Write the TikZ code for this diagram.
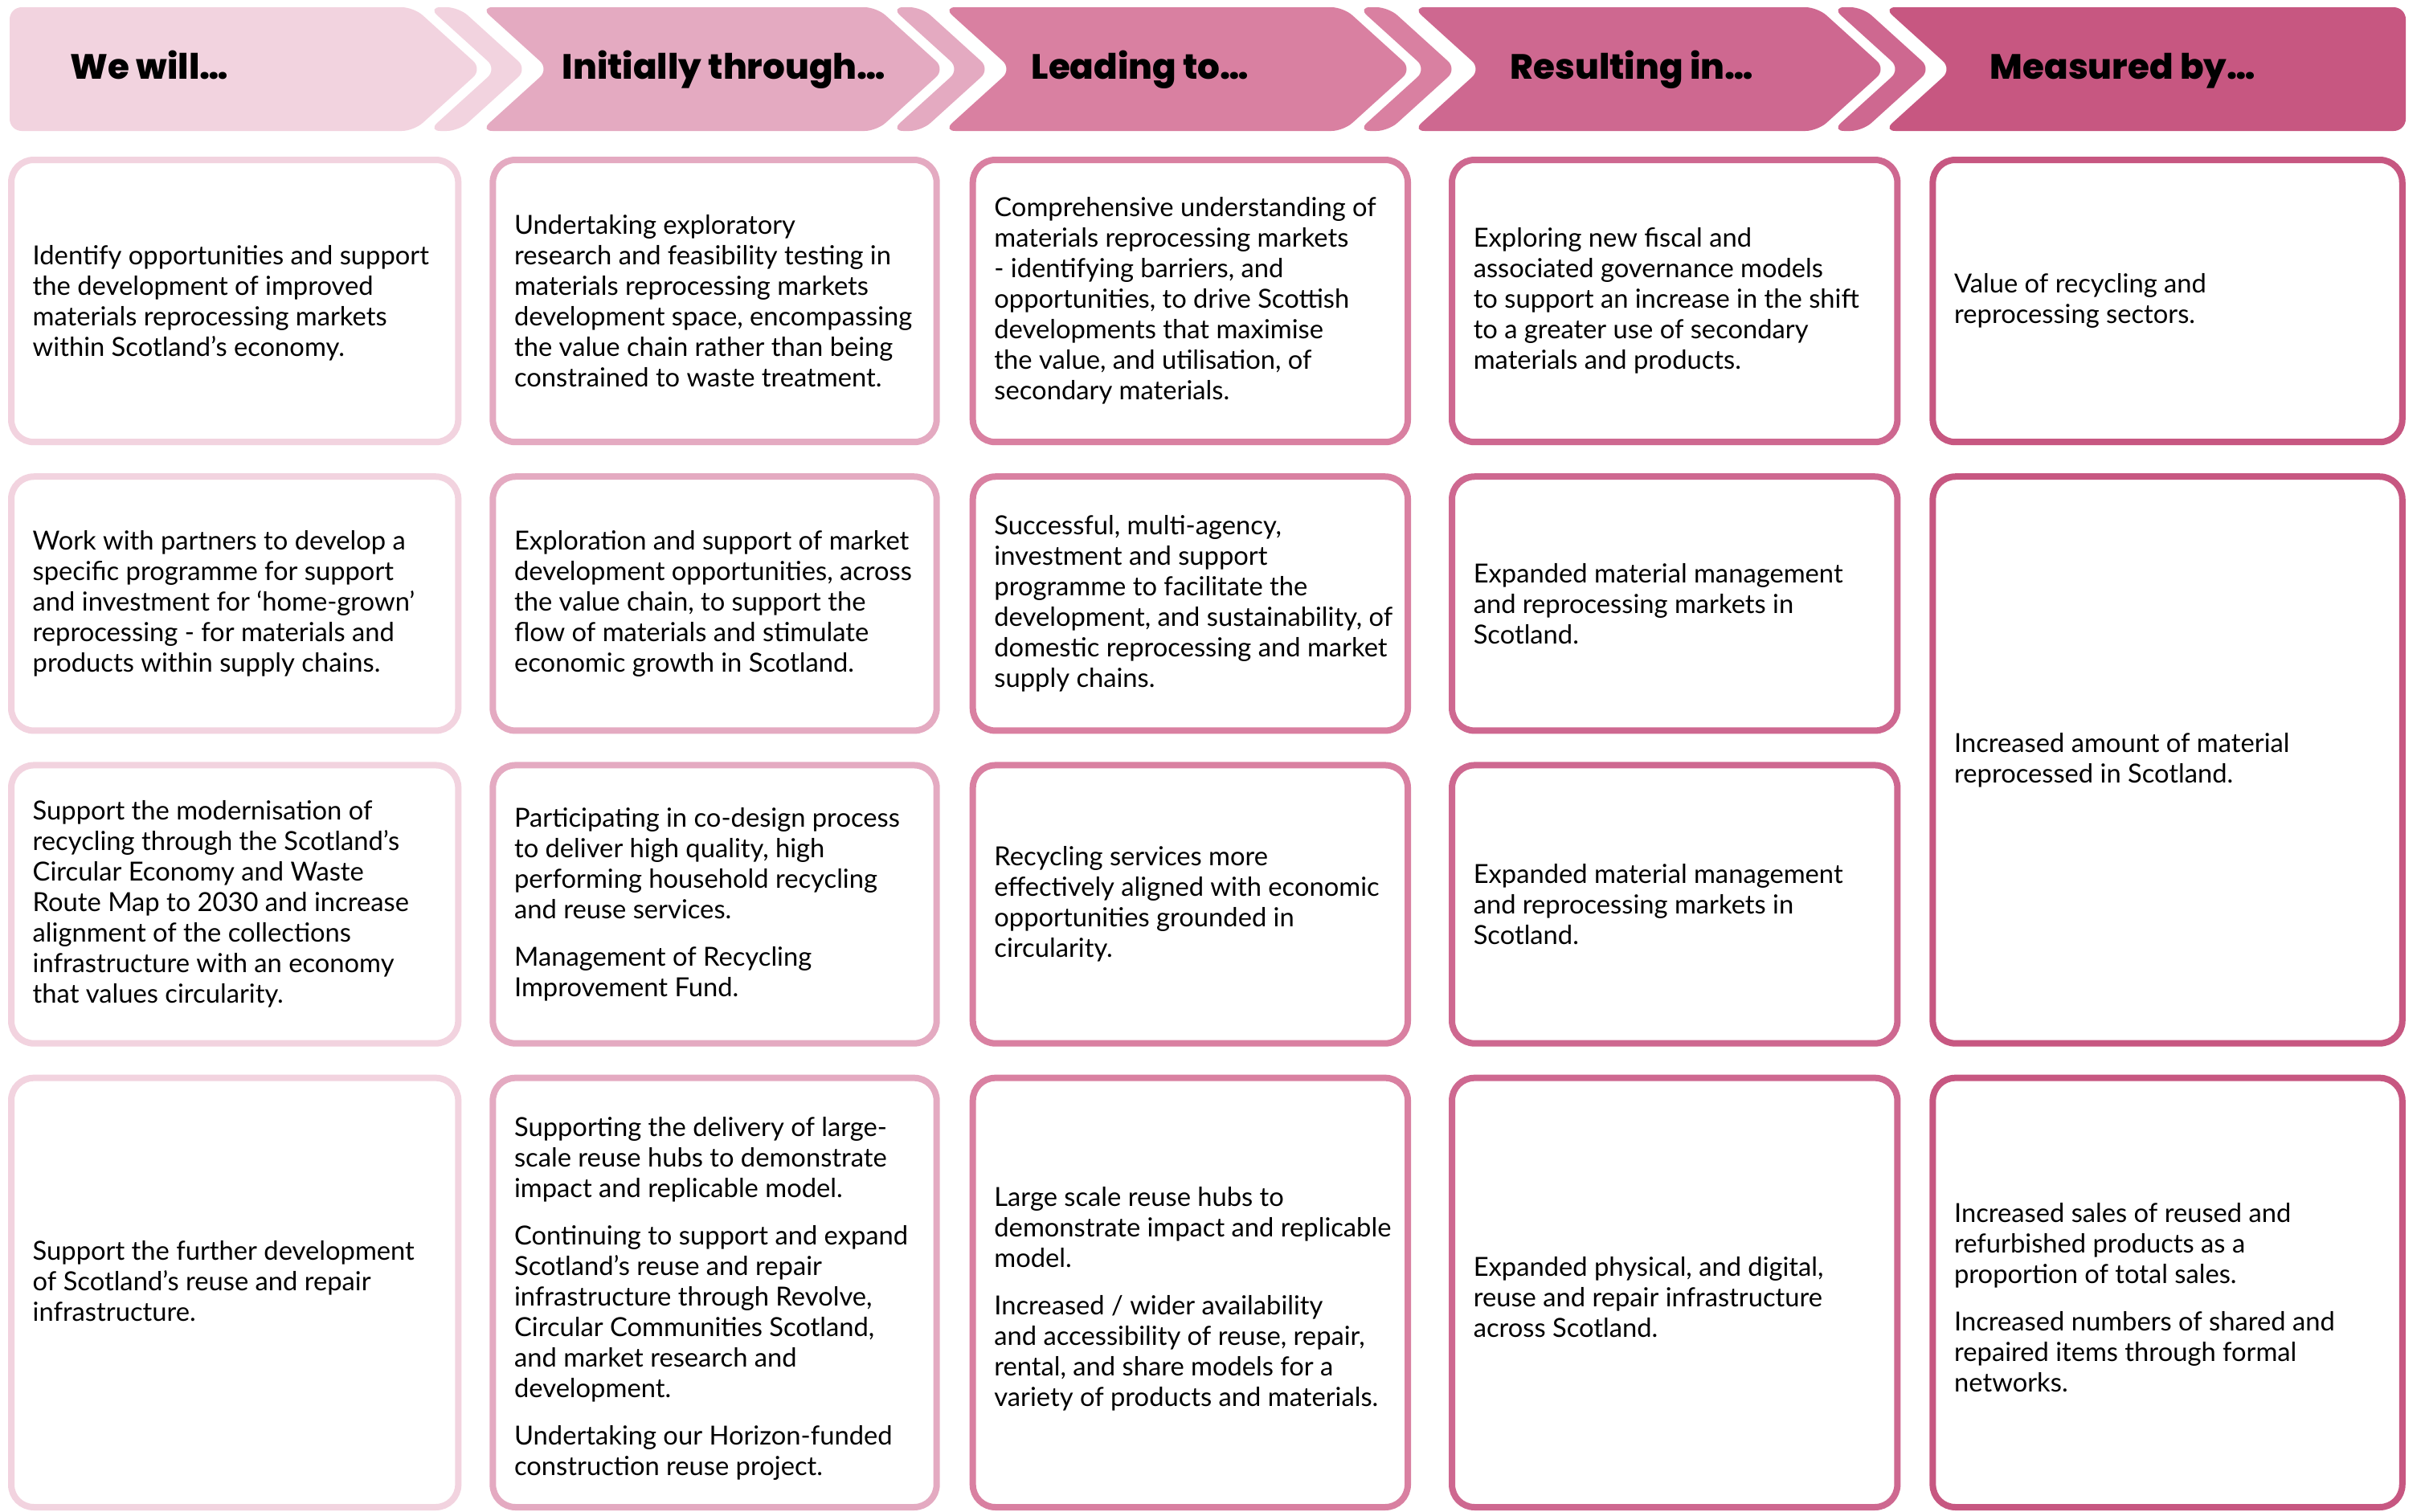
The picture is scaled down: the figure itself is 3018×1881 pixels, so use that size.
\documentclass[tikz,border=0pt]{standalone}
\usepackage{fontspec}
\setmainfont{Lato}
\newfontfamily\headfont{Poppins ExtraBold}
\usepackage{tikz}
\usetikzlibrary{positioning}

\definecolor{pkA}{HTML}{F2D3DF}
\definecolor{pkB}{HTML}{E4AAC1}
\definecolor{pkC}{HTML}{D980A1}
\definecolor{pkD}{HTML}{CE6890}
\definecolor{pkE}{HTML}{C75781}

\tikzset{
    card/.style={draw, fill=white, line width=0.08cm, rounded corners=0.28cm, inner sep=0pt},
    cwe/.style={card, draw=pkA, minimum width=5.56cm},
    cinit/.style={card, draw=pkB, minimum width=5.52cm},
    clead/.style={card, draw=pkC, minimum width=5.41cm},
    cres/.style={card, draw=pkD, minimum width=5.54cm},
    cmeas/.style={card, draw=pkE, minimum width=5.84cm},
    rowa/.style={minimum height=3.51cm},
    rowb/.style={minimum height=3.16cm},
    rowc/.style={minimum height=3.46cm},
    rowd/.style={minimum height=5.34cm},
    rowbc/.style={minimum height=7.05cm},
    txt/.style={align=left, inner sep=0pt, font=\fontsize{9.3}{10.8}\selectfont},
    head/.style={anchor=base west, inner sep=0pt, font=\headfont\fontsize{12.4}{14}\selectfont},
}

\begin{document}
\begin{tikzpicture}[x=0.01cm, y=-0.01cm]
    \useasboundingbox (0,0) rectangle (3018,1881);

    % header chevrons
    \fill[pkA, rounded corners=0.15cm] (12,9) -- (515,9) -- (600,86) -- (515,163) -- (12,163) -- cycle;
    \fill[pkA, rounded corners=0.15cm] (533,9) -- (571,9) -- (656,86) -- (571,163) -- (533,163) -- (618,86) -- cycle;
    \fill[pkB, rounded corners=0.15cm] (598,9) -- (1091,9) -- (1176,86) -- (1091,163) -- (598,163) -- (683,86) -- cycle;
    \fill[pkB, rounded corners=0.15cm] (1109,9) -- (1147,9) -- (1232,86) -- (1147,163) -- (1109,163) -- (1194,86) -- cycle;
    \fill[pkC, rounded corners=0.15cm] (1174,9) -- (1672,9) -- (1757,86) -- (1672,163) -- (1174,163) -- (1259,86) -- cycle;
    \fill[pkC, rounded corners=0.15cm] (1690,9) -- (1728,9) -- (1813,86) -- (1728,163) -- (1690,163) -- (1775,86) -- cycle;
    \fill[pkD, rounded corners=0.15cm] (1758,9) -- (2262,9) -- (2347,86) -- (2262,163) -- (1758,163) -- (1843,86) -- cycle;
    \fill[pkD, rounded corners=0.15cm] (2280,9) -- (2318,9) -- (2403,86) -- (2318,163) -- (2280,163) -- (2365,86) -- cycle;
    \fill[pkE, rounded corners=0.15cm] (2344,9) -- (2994,9) -- (2994,163) -- (2344,163) -- (2429,86) -- cycle;

    \node[head] (hwe) at (87,98) {We will…};
    \node[head] (hinit) at (699,98) {Initially through…};
    \node[head] (hlead) at (1283,98) {Leading to…};
    \node[head] (hres) at (1879,98) {Resulting in…};
    \node[head] (hmeas) at (2476,98) {Measured by…};

    % row 1
    \node[cwe, rowa, anchor=north west] (we1) at (10,195) {};
    \node[cinit, rowa, right=0.35cm of we1] (init1) {};
    \node[clead, rowa, right=0.37cm of init1] (lead1) {};
    \node[cres, rowa, right=0.47cm of lead1] (res1) {};
    \node[cmeas, rowa, right=0.36cm of res1] (meas1) {};

    % row 2
    \node[cwe, rowb, below=0.35cm of we1] (we2) {};
    \node[cinit, rowb, below=0.35cm of init1] (init2) {};
    \node[clead, rowb, below=0.35cm of lead1] (lead2) {};
    \node[cres, rowb, below=0.35cm of res1] (res2) {};
    \node[cmeas, rowbc, below=0.35cm of meas1] (meas2) {};

    % row 3
    \node[cwe, rowc, below=0.35cm of we2] (we3) {};
    \node[cinit, rowc, below=0.35cm of init2] (init3) {};
    \node[clead, rowc, below=0.35cm of lead2] (lead3) {};
    \node[cres, rowc, below=0.35cm of res2] (res3) {};

    % row 4
    \node[cwe, rowd, below=0.35cm of we3] (we4) {};
    \node[cinit, rowd, below=0.35cm of init3] (init4) {};
    \node[clead, rowd, below=0.35cm of lead3] (lead4) {};
    \node[cres, rowd, below=0.35cm of res3] (res4) {};
    \node[cmeas, rowd, below=0.35cm of meas2] (meas3) {};

    % texts
    \node[txt, right=0.3cm of we1.west, yshift=-0.03cm] (we1-t) {Identify opportunities and support\\the development of improved\\materials reprocessing markets\\within Scotland’s economy.};
    \node[txt, right=0.3cm of init1.west] (init1-t) {Undertaking exploratory\\research and feasibility testing in\\materials reprocessing markets\\development space, encompassing\\the value chain rather than being\\constrained to waste treatment.};
    \node[txt, right=0.3cm of lead1.west] (lead1-t) {Comprehensive understanding of\\materials reprocessing markets\\- identifying barriers, and\\opportunities, to drive Scottish\\developments that maximise\\the value, and utilisation, of\\secondary materials.};
    \node[txt, right=0.3cm of res1.west] (res1-t) {Exploring new fiscal and\\associated governance models\\to support an increase in the shift\\to a greater use of secondary\\materials and products.};
    \node[txt, right=0.3cm of meas1.west] (meas1-t) {Value of recycling and\\reprocessing sectors.};

    \node[txt, right=0.3cm of we2.west] (we2-t) {Work with partners to develop a\\specific programme for support\\and investment for ‘home-grown’\\reprocessing - for materials and\\products within supply chains.};
    \node[txt, right=0.3cm of init2.west] (init2-t) {Exploration and support of market\\development opportunities, across\\the value chain, to support the\\flow of materials and stimulate\\economic growth in Scotland.};
    \node[txt, right=0.3cm of lead2.west] (lead2-t) {Successful, multi-agency,\\investment and support\\programme to facilitate the\\development, and sustainability, of\\domestic reprocessing and market\\supply chains.};
    \node[txt, right=0.3cm of res2.west] (res2-t) {Expanded material management\\and reprocessing markets in\\Scotland.};
    \node[txt, right=0.3cm of meas2.west] (meas2-t) {Increased amount of material\\reprocessed in Scotland.};

    \node[txt, right=0.3cm of we3.west] (we3-t) {Support the modernisation of\\recycling through the Scotland’s\\Circular Economy and Waste\\Route Map to 2030 and increase\\alignment of the collections\\infrastructure with an economy\\that values circularity.};
    \node[txt, right=0.3cm of init3.west] (init3-t) {Participating in co-design process\\to deliver high quality, high\\performing household recycling\\and reuse services.\\[6pt]Management of Recycling\\Improvement Fund.};
    \node[txt, right=0.3cm of lead3.west] (lead3-t) {Recycling services more\\effectively aligned with economic\\opportunities grounded in\\circularity.};
    \node[txt, right=0.3cm of res3.west] (res3-t) {Expanded material management\\and reprocessing markets in\\Scotland.};

    \node[txt, right=0.3cm of we4.west, yshift=0.14cm] (we4-t) {Support the further development\\of Scotland’s reuse and repair\\infrastructure.};
    \node[txt, right=0.3cm of init4.west, yshift=-0.08cm] (init4-t) {Supporting the delivery of large-\\scale reuse hubs to demonstrate\\impact and replicable model.\\[6pt]Continuing to support and expand\\Scotland’s reuse and repair\\infrastructure through Revolve,\\Circular Communities Scotland,\\and market research and\\development.\\[6pt]Undertaking our Horizon-funded\\construction reuse project.};
    \node[txt, right=0.3cm of lead4.west, yshift=-0.08cm] (lead4-t) {Large scale reuse hubs to\\demonstrate impact and replicable\\model.\\[6pt]Increased / wider availability\\and accessibility of reuse, repair,\\rental, and share models for a\\variety of products and materials.};
    \node[txt, right=0.3cm of res4.west, yshift=-0.06cm] (res4-t) {Expanded physical, and digital,\\reuse and repair infrastructure\\across Scotland.};
    \node[txt, right=0.3cm of meas3.west, yshift=-0.06cm] (meas3-t) {Increased sales of reused and\\refurbished products as a\\proportion of total sales.\\[6pt]Increased numbers of shared and\\repaired items through formal\\networks.};
\end{tikzpicture}
\end{document}
